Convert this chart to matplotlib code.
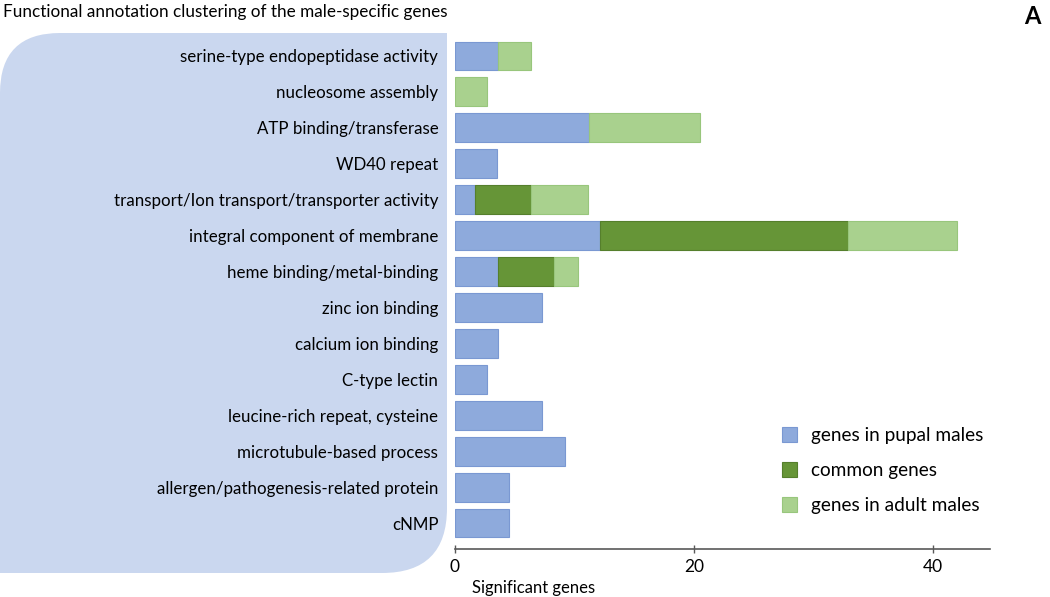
import numpy as np
import matplotlib.pyplot as plt
from matplotlib.path import Path
from matplotlib.patches import PathPatch

plt.rcParams['font.family'] = ['Lato', 'DejaVu Sans']

categories = ['serine-type endopeptidase activity', 'nucleosome assembly',
              'ATP binding/transferase', 'WD40 repeat',
              'transport/Ion transport/transporter activity',
              'integral component of membrane', 'heme binding/metal-binding',
              'zinc ion binding', 'calcium ion binding', 'C-type lectin',
              'leucine-rich repeat, cysteine', 'microtubule-based process',
              'allergen/pathogenesis-related protein', 'cNMP']
pupal = [3.6, 0, 11.2, 3.55, 1.7, 12.15, 3.6, 7.3, 3.6, 2.65, 7.3, 9.2, 4.5, 4.5]
common = [0, 0, 0, 0, 4.7, 20.8, 4.7, 0, 0, 0, 0, 0, 0, 0]
adult = [2.8, 2.65, 9.35, 0, 4.7, 9.1, 2.0, 0, 0, 0, 0, 0, 0, 0]
series = ['genes in pupal males', 'common genes', 'genes in adult males']
colors = ['#8eaadc', '#669537', '#a9d18e']
edges = ['#7a98d2', '#557f2c', '#98c67c']

fig = plt.figure(figsize=(10.5, 5.97), dpi=100)

# rounded light-blue panel behind the category names
bg = fig.add_axes([0, 0, 1, 1], zorder=0)
bg.set_xlim(0, 1050)
bg.set_ylim(597, 0)
bg.axis('off')
r1, r2 = 60, 65
verts = [(0, 33 + r1), (0, 33), (r1, 33), (447, 33), (447, 573 - r2),
         (447, 573), (447 - r2, 573), (0, 573), (0, 33 + r1)]
codes = [Path.MOVETO, Path.CURVE3, Path.CURVE3, Path.LINETO, Path.LINETO,
         Path.CURVE3, Path.CURVE3, Path.LINETO, Path.CLOSEPOLY]
bg.add_patch(PathPatch(Path(verts, codes), facecolor='#cad7ef', edgecolor='none'))

ax = fig.add_axes([455 / 1050, 1 - 549 / 597, 535 / 1050, 519 / 597], zorder=1)
ax.patch.set_alpha(0)
y = np.arange(len(categories))
left = np.zeros(len(categories))
for vals, c, e, name in zip([pupal, common, adult], colors, edges, series):
    vals = np.array(vals)
    m = vals > 0
    ax.barh(y[m], vals[m], left=left[m], height=0.8, color=c, edgecolor=e,
            linewidth=0.8, label=name)
    left += vals

ax.set_ylim(len(categories) - 0.28, -0.72)
ax.set_xlim(0, 44.8)
ax.set_yticks(y)
ax.set_yticklabels(categories, fontsize=12.2)
ax.tick_params(axis='y', length=0, pad=12)
ax.set_xticks([0, 20, 40])
ax.tick_params(axis='x', labelsize=12.5, color='#595959', direction='inout',
               length=6, width=1, pad=4)
for s in ['top', 'right', 'left']:
    ax.spines[s].set_visible(False)
ax.spines['bottom'].set_color('#595959')
ax.spines['bottom'].set_linewidth(1.2)

ax.text(17 / 535, -0.075, 'Significant genes', transform=ax.transAxes,
        fontsize=12, ha='left', va='center')

fig.text(3 / 1050, 1 - 12 / 597, 'Functional annotation clustering of the male-specific genes',
         fontsize=12.3, ha='left', va='center')
fig.text(1040 / 1050, 1 - 16 / 597, 'A', fontsize=17, fontweight='bold',
         ha='right', va='center')

ax.legend(loc='upper left', bbox_to_anchor=(765 / 1050, 1 - 410 / 597),
          bbox_transform=fig.transFigure, frameon=False, fontsize=13.7,
          handlelength=0.8, handleheight=0.8, labelspacing=0.95, handletextpad=0.7)

fig.savefig('out.png', dpi=100)
